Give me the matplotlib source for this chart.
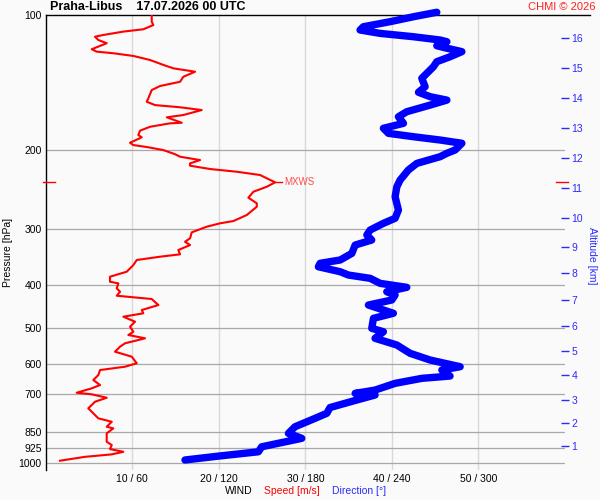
import matplotlib
matplotlib.use("Agg")
import matplotlib.pyplot as plt
from matplotlib.ticker import FixedLocator, NullLocator
import numpy as np

plt.rcParams['font.family'] = ['Liberation Sans', 'DejaVu Sans']

# wind speed profile [hPa] -> [m/s]
speed_pres = [100.0, 103.5, 105.3, 107.6, 108.9, 110.8, 111.8, 113.7, 115.6, 117.2,
              119.2, 120.7, 121.7, 123.4, 126.0, 129.2, 131.5, 133.8, 137.3, 140.9,
              144.0, 147.0, 153.4, 156.1, 158.8, 160.6, 162.9, 167.1, 169.1, 173.9,
              174.4, 177.5, 181.1, 185.2, 187.4, 192.7, 195.0, 197.0, 200.0, 204.2,
              207.0, 210.6, 214.2, 216.8, 220.5, 223.6, 227.4, 236.1, 241.5, 247.8,
              255.5, 262.9, 267.6, 279.2, 288.0, 291.4, 296.5, 305.2, 314.7, 320.3,
              325.8, 334.2, 341.7, 345.9, 351.8, 361.0, 373.6, 383.3, 393.3, 396.6,
              406.9, 414.0, 422.6, 429.8, 443.3, 454.8, 462.5, 470.7, 482.9, 495.5,
              508.4, 517.0, 525.9, 539.5, 549.0, 563.3, 577.9, 597.8, 608.4, 618.9,
              635.0, 651.5, 668.4, 679.8, 695.4, 701.1, 713.5, 728.3, 753.4, 773.0,
              793.1, 807.1, 828.1, 835.0, 856.7, 894.5, 909.8, 928.7, 941.7, 954.3,
              966.4, 985.9]
speed = [12.24, 12.24, 12.43, 11.27, 8.96, 6.65, 5.69, 6.07, 7.04, 6.27,
         5.31, 5.88, 7.80, 10.12, 12.05, 13.58, 14.74, 17.25, 15.90, 15.51,
         13.20, 12.24, 11.85, 11.66, 12.62, 15.51, 18.02, 15.90, 13.98, 15.71,
         14.36, 12.05, 10.89, 10.69, 11.09, 9.73, 10.12, 11.70, 13.55, 14.90,
         15.51, 17.83, 16.67, 16.67, 18.98, 22.07, 24.76, 26.50, 25.54, 23.99,
         23.41, 24.38, 24.38, 23.23, 21.68, 20.14, 18.60, 16.87, 16.67, 16.09,
         16.67, 15.32, 15.51, 13.20, 10.51, 10.12, 9.35, 7.42, 7.42, 8.38,
         8.20, 8.58, 8.20, 12.24, 13.01, 11.09, 11.27, 8.96, 10.31, 9.73,
         10.12, 9.54, 11.47, 9.16, 8.58, 8.00, 9.93, 10.51, 9.16, 6.27,
         6.07, 5.49, 6.27, 5.31, 3.57, 5.31, 7.04, 5.69, 4.91, 5.49,
         6.07, 7.62, 7.04, 7.80, 7.04, 7.04, 7.62, 7.42, 8.96, 7.62,
         4.53, 1.64]

# wind direction profile [hPa] -> [deg]
dir_pres = [98.6, 100.9, 103.5, 106.2, 108.0, 109.9, 111.8, 113.7, 114.7, 117.1,
            118.6, 120.7, 123.9, 127.1, 130.4, 134.9, 138.4, 144.5, 148.7, 152.1,
            154.8, 158.8, 164.3, 168.6, 174.4, 178.9, 183.6, 186.8, 190.0, 193.2,
            200.0, 203.4, 207.0, 214.2, 221.6, 233.3, 241.5, 254.2, 272.2, 284.0,
            291.4, 301.6, 309.4, 317.5, 325.8, 340.0, 351.8, 357.8, 364.2, 373.6,
            380.0, 386.5, 396.6, 404.8, 414.0, 421.1, 432.0, 443.3, 462.5, 474.6,
            499.6, 508.4, 525.9, 544.3, 568.0, 587.9, 608.4, 618.9, 638.3, 645.9,
            662.7, 686.0, 697.6, 703.6, 721.9, 750.3, 773.0, 793.1, 828.1, 856.7,
            878.9, 917.8, 941.7, 962.9, 982.2]
direction = [271.1, 254.9, 238.7, 220.2, 217.9, 231.8, 254.9, 273.4, 278.1, 271.1,
             278.1, 288.5, 280.3, 271.1, 268.8, 264.2, 260.7, 263.0, 258.4, 266.5,
             278.1, 266.5, 250.3, 244.5, 248.0, 234.1, 237.6, 254.9, 273.4, 288.5,
             283.8, 278.1, 273.4, 257.3, 251.4, 245.7, 243.4, 242.2, 244.5, 242.2,
             234.1, 224.9, 222.6, 226.0, 214.5, 212.2, 204.1, 190.2, 189.0, 204.1,
             209.8, 224.9, 231.8, 250.3, 236.4, 242.2, 239.9, 223.7, 241.0, 227.2,
             226.0, 234.1, 228.3, 243.4, 252.6, 266.5, 287.3, 274.6, 280.3, 260.7,
             242.2, 228.3, 214.5, 228.3, 215.6, 197.1, 194.8, 186.7, 172.8, 168.2,
             177.5, 149.7, 147.4, 119.6, 96.5]

p_levels = [100, 200, 300, 400, 500, 600, 700, 850, 925, 1000]
speed_ticks = [10, 20, 30, 40, 50]
alt_km = list(range(1, 17))
alt_pres = [914, 812, 722, 635, 561, 494, 432, 376, 329, 284,
            243, 208, 179, 153, 131, 112.5]

BG = '#fafafa'
RED = '#ff0000'
BLUE = '#0000ff'
LBLUE = '#2a2aff'

fig = plt.figure(figsize=(6, 5), dpi=100, facecolor=BG)
ax = fig.add_axes([45.8 / 600, 30 / 500, (565 - 45.8) / 600, 455 / 500])
ax.set_facecolor(BG)
ax.set_yscale('log')
ax.set_ylim(1034, 100)
ax.set_xlim(0, 60)

ax.yaxis.set_major_locator(FixedLocator(p_levels))
ax.yaxis.set_minor_locator(NullLocator())
ax.set_yticklabels([str(p) for p in p_levels])
ax.set_xticks(speed_ticks)
ax.set_xticklabels([f"{s} / {s * 6}" for s in speed_ticks])
ax.tick_params(axis='y', length=0, pad=3, labelsize=7.5)
ax.tick_params(axis='x', length=0, pad=3, labelsize=7.5)

for side in ['top', 'right', 'bottom']:
    ax.spines[side].set_visible(False)
ax.spines['left'].set_linewidth(1.0)

for p in p_levels[1:]:
    ax.axhline(p, color='#a8a8a8', lw=0.9, zorder=1)
for s in speed_ticks:
    ax.axvline(s, color='#d9d9d9', lw=1.0, zorder=0.5)
# top frame line runs on past the plot
ax.plot([0, 1.048], [1, 1], transform=ax.transAxes, clip_on=False, color='k', lw=1.0)

ax.plot(speed, speed_pres, color=RED, lw=1.5, zorder=3)

# max wind marks
i_max = int(np.argmax(speed))
s_max, p_max = speed[i_max], speed_pres[i_max]
ax.plot([s_max, s_max + 0.8], [p_max, p_max], color=RED, lw=1.0, zorder=3)
ax.text(s_max + 1.1, p_max, 'MXWS', color='#ff4a4a', fontsize=7, va='center')
ax.plot([-0.3, 1.1], [p_max, p_max], color=RED, lw=1.0, clip_on=False, zorder=4)
ax.plot([59.0, 60.3], [p_max, p_max], color=RED, lw=1.0, clip_on=False, zorder=4)

# direction on its own x scale
axd = ax.twiny()
axd.set_xlim(0, 360)
axd.set_xticks([])
for sp in axd.spines.values():
    sp.set_visible(False)
axd.patch.set_visible(False)
axd.plot(direction, dir_pres, color=BLUE, lw=5.3, solid_capstyle='round',
         solid_joinstyle='round', clip_on=False, zorder=3)

# altitude on the right
axa = ax.twinx()
axa.set_yscale('log')
axa.set_ylim(1034, 100)
axa.yaxis.set_major_locator(FixedLocator(alt_pres))
axa.yaxis.set_minor_locator(NullLocator())
axa.set_yticklabels([str(k) for k in alt_km])
axa.tick_params(axis='y', direction='inout', length=6, width=1.0, color=LBLUE,
                labelcolor=LBLUE, labelsize=7.5, pad=1.5)
for sp in axa.spines.values():
    sp.set_visible(False)
axa.patch.set_visible(False)

fig.text(50 / 600, 1 - 7.5 / 500, 'Praha-Libus    17.07.2026 00 UTC', fontsize=9,
         fontweight='bold', va='center', ha='left')
fig.text(596 / 600, 1 - 6.7 / 500, 'CHMI \u00a9 2026', fontsize=8, color='#ff2020',
         va='center', ha='right')
fig.text(8 / 600, 1 - 252 / 500, 'Pressure [hPa]', rotation=90, fontsize=7.5,
         va='center', ha='center')
fig.text(592 / 600, 1 - 256 / 500, 'Altitude [km]', rotation=-90, fontsize=7.5,
         color=LBLUE, va='center', ha='center')
fig.text(225 / 600, 1 - 491 / 500, 'WIND', fontsize=7.5, va='center', ha='left')
fig.text(264 / 600, 1 - 491 / 500, 'Speed [m/s]', fontsize=7.5, color=RED,
         va='center', ha='left')
fig.text(332 / 600, 1 - 491 / 500, 'Direction [\u00b0]', fontsize=7.5, color=LBLUE,
         va='center', ha='left')

fig.savefig('out.png', dpi=100, facecolor=BG)
